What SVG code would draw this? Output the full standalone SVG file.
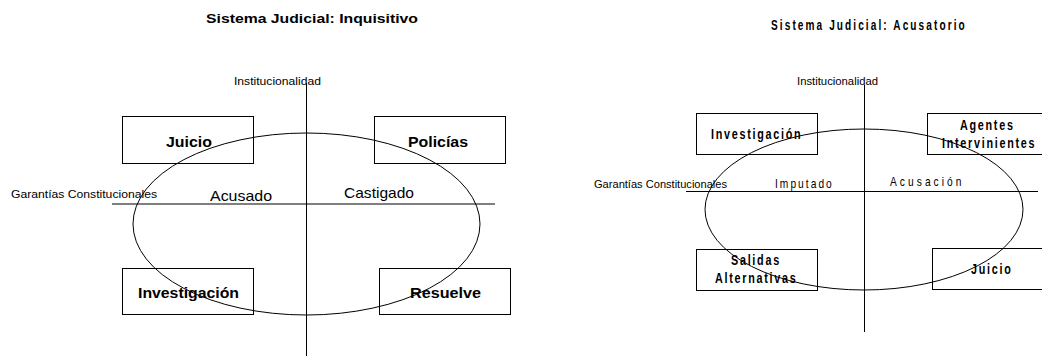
<svg xmlns="http://www.w3.org/2000/svg" width="1042" height="358" viewBox="0 0 1042 358">
<style>
text{font-family:"Liberation Sans",Arial,sans-serif;fill:#000}
.b{font-weight:bold}
.box{fill:#fff;stroke:#000;stroke-width:1}
.ln{fill:none;stroke:#000;stroke-width:1}
.nb{font-weight:bold;font-size:15px;letter-spacing:2.4px}
.nr{font-size:12px}
</style>
<rect width="1042" height="358" fill="#fff"/>
<!-- Left diagram -->
<text class="b" x="206" y="23" font-size="13" textLength="212" lengthAdjust="spacingAndGlyphs">Sistema Judicial: Inquisitivo</text>
<g id="l-juicio"><rect class="box" x="122.5" y="116.5" width="131" height="47"/><text class="b" x="166" y="147" font-size="15" textLength="46" lengthAdjust="spacingAndGlyphs">Juicio</text></g>
<g id="l-policias"><rect class="box" x="374.5" y="116.5" width="131" height="47"/><text class="b" x="408" y="147" font-size="15" textLength="60" lengthAdjust="spacingAndGlyphs">Policías</text></g>
<g id="l-investigacion"><rect class="box" x="122.5" y="268.5" width="131" height="46"/><text class="b" x="138" y="298" font-size="15" textLength="101" lengthAdjust="spacingAndGlyphs">Investigación</text></g>
<g id="l-resuelve"><rect class="box" x="379.5" y="268.5" width="131" height="46"/><text class="b" x="410" y="298" font-size="15" textLength="71" lengthAdjust="spacingAndGlyphs">Resuelve</text></g>
<g id="l-connectors">
<line class="ln" x1="306.5" y1="83" x2="306.5" y2="356"/>
<line class="ln" x1="112" y1="204" x2="495" y2="204"/>
<ellipse class="ln" cx="306.5" cy="224" rx="173.5" ry="91"/>
</g>
<text x="234" y="85" font-size="11" textLength="87" lengthAdjust="spacingAndGlyphs">Institucionalidad</text>
<text x="11" y="198" font-size="11" textLength="146" lengthAdjust="spacingAndGlyphs">Garantías Constitucionales</text>
<text x="210" y="201" font-size="15" textLength="62" lengthAdjust="spacingAndGlyphs">Acusado</text>
<text x="344" y="198" font-size="15" textLength="70" lengthAdjust="spacingAndGlyphs">Castigado</text>
<!-- Right diagram -->
<text class="b" transform="translate(771 30) scale(0.72 1)" font-size="14" letter-spacing="2.9">Sistema Judicial: Acusatorio</text>
<g id="r-investigacion"><rect class="box" x="696.5" y="113.5" width="121" height="41"/><text class="nb" transform="translate(711 139) scale(0.72 1)">Investigación</text></g>
<g id="r-agentes"><rect class="box" x="927.5" y="113.5" width="130" height="41"/><text class="nb" transform="translate(960 130) scale(0.72 1)">Agentes</text><text class="nb" transform="translate(942 148) scale(0.72 1)">Intervinientes</text></g>
<g id="r-salidas"><rect class="box" x="696.5" y="249.5" width="121" height="41"/><text class="nb" transform="translate(731 265) scale(0.72 1)">Salidas</text><text class="nb" transform="translate(715 283) scale(0.72 1)">Alternativas</text></g>
<g id="r-juicio"><rect class="box" x="932.5" y="248.5" width="130" height="41"/><text class="nb" transform="translate(971 274) scale(0.72 1)">Juicio</text></g>
<g id="r-connectors">
<line class="ln" x1="864.5" y1="85" x2="864.5" y2="332"/>
<line class="ln" x1="686" y1="191.5" x2="1038" y2="191.5"/>
<ellipse class="ln" cx="864" cy="209.5" rx="159" ry="80.5"/>
</g>
<text x="797" y="85" font-size="11" textLength="81" lengthAdjust="spacingAndGlyphs">Institucionalidad</text>
<text x="594" y="188" font-size="11" textLength="133" lengthAdjust="spacingAndGlyphs">Garantías Constitucionales</text>
<text class="nr" transform="translate(775 188) scale(0.85 1)" letter-spacing="2.4">Imputado</text>
<text class="nr" transform="translate(890 186) scale(0.85 1)" letter-spacing="3.6">Acusación</text>
</svg>
